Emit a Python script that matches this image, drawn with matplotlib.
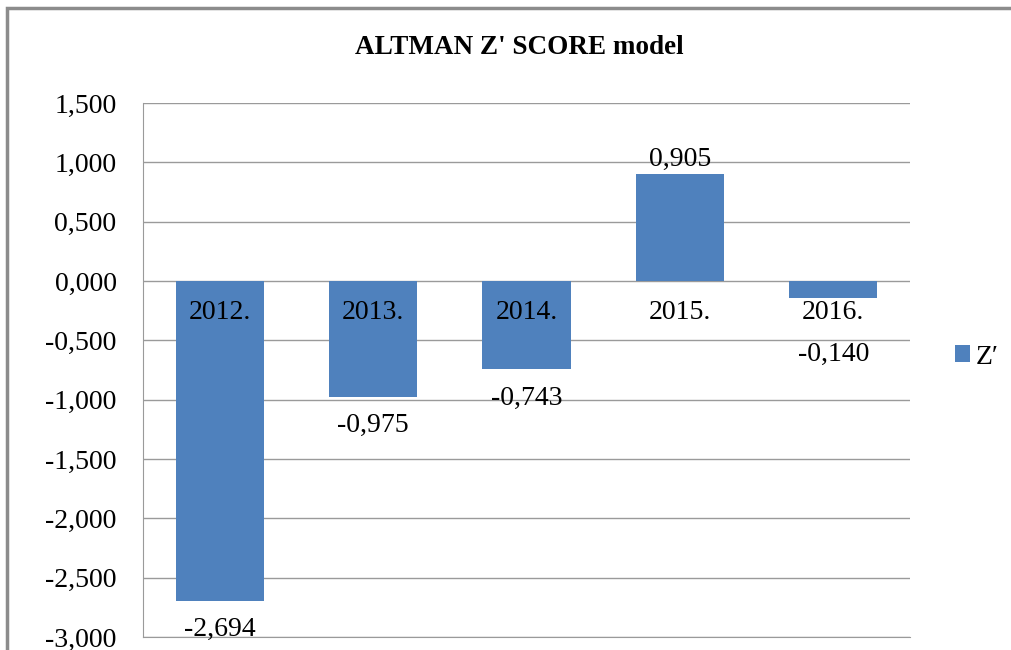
import matplotlib.pyplot as plt
from matplotlib.patches import Rectangle
from matplotlib.ticker import FuncFormatter

years = ['2012.', '2013.', '2014.', '2015.', '2016.']
z_scores = [-2.694, -0.975, -0.743, 0.905, -0.140]
series_name = "Z\u2032"
title = "ALTMAN Z' SCORE model"

plt.rcParams['font.family'] = ['Liberation Serif', 'DejaVu Serif']

bar_color = '#4F81BD'
grid_color = '#9A9A9A'

fig = plt.figure(figsize=(10.11, 6.5), dpi=100)
ax = fig.add_axes([143 / 1011, 13 / 650, (910 - 143) / 1011, (637 - 103) / 650])

x = list(range(len(years)))
bars = ax.bar(x, z_scores, width=0.575, color=bar_color, label=series_name, zorder=3)

ax.set_xlim(-0.5, len(years) - 0.5)
ax.set_ylim(-3.0, 1.5)
ax.set_yticks([i * 0.5 for i in range(-6, 4)])
ax.yaxis.set_major_formatter(FuncFormatter(lambda v, p: f'{v:.3f}'.replace('.', ',')))
ax.tick_params(axis='y', length=0, labelsize=20, pad=19)
ax.set_xticks([])
ax.grid(axis='y', color=grid_color, linewidth=1, zorder=0)
for s in ['top', 'right']:
    ax.spines[s].set_visible(False)
ax.spines['left'].set_color(grid_color)
ax.spines['bottom'].set_color(grid_color)

# category labels sit below the zero line
for xi, yr in zip(x, years):
    ax.annotate(yr, (xi, 0), xytext=(0, -23), textcoords='offset points',
                ha='center', va='center', fontsize=20, zorder=4)

# value labels at the bar ends (short negative bars push theirs below the category label)
for xi, v in zip(x, z_scores):
    txt = f'{v:.3f}'.replace('.', ',')
    if v >= 0:
        ax.annotate(txt, (xi, v), xytext=(0, 1), textcoords='offset points',
                    ha='center', va='bottom', fontsize=20, zorder=4)
    elif v > -0.5:
        ax.annotate(txt, (xi, 0), xytext=(0, -53), textcoords='offset points',
                    ha='center', va='center', fontsize=20, zorder=4)
    else:
        ax.annotate(txt, (xi, v), xytext=(0, -21), textcoords='offset points',
                    ha='center', va='center', fontsize=20, zorder=4)

fig.text(519 / 1011, 1 - 47 / 650, title, ha='center', va='center',
         fontsize=19.5, fontweight='bold')

fig.legend(handles=[bars], labels=[series_name], loc='center left',
           bbox_to_anchor=(930 / 1011, 1 - 357 / 650), frameon=False,
           fontsize=20, handlelength=0.55, handleheight=0.55, handletextpad=0.2)

# outer chart border (top and left edges visible, rest cropped)
fig.patches.append(Rectangle((7 / 1011, -0.1), 1.1, 1.1 - 8 / 650, transform=fig.transFigure,
                             fill=False, edgecolor='#8C8C8C', linewidth=2.5))

fig.savefig('out.png', dpi=100)
